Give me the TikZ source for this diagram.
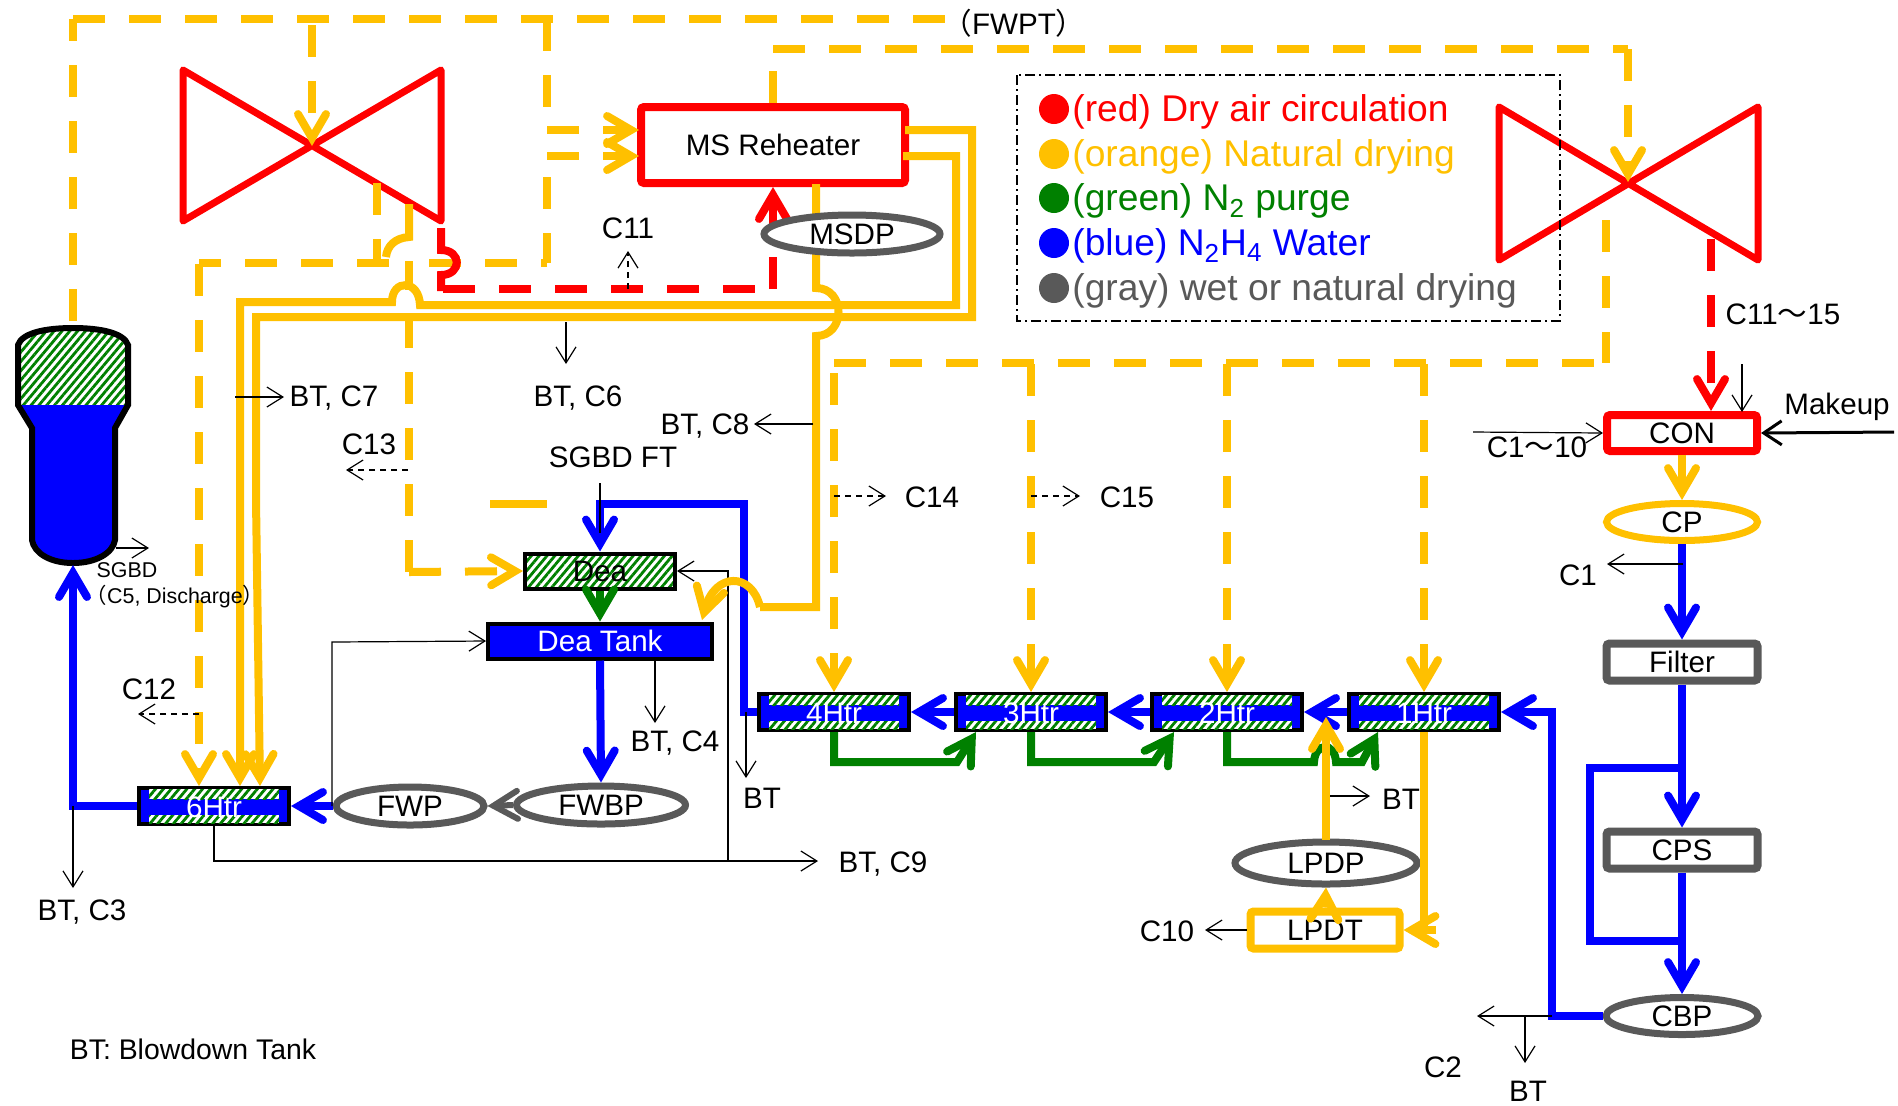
\documentclass[tikz,border=0pt]{standalone}
\usepackage{fontspec}
\setmainfont{Liberation Sans}
\newfontfamily\cjk{Noto Sans CJK JP}
\usetikzlibrary{arrows.meta, patterns.meta, shapes.geometric}

\definecolor{dryred}{HTML}{FF0000}
\definecolor{dryorange}{HTML}{FFC000}
\definecolor{purgegreen}{HTML}{008000}
\definecolor{waterblue}{HTML}{0000FF}
\definecolor{wetgray}{HTML}{595959}

\tikzset{
  pipe/.style={line width=4pt, line cap=butt, line join=miter},
  tipped/.style={-{Straight Barb[length=12pt,width=14pt,line cap=round,line join=miter]}},
  gap/.style={dash pattern=on 16pt off 12pt},
  redpipe/.style={pipe, dryred},
  orangepipe/.style={pipe, dryorange},
  greenpipe/.style={pipe, purgegreen},
  bluepipe/.style={pipe, waterblue},
  graypipe/.style={pipe, wetgray, line width=3pt},
  tap/.style={line width=.6pt, black, -{Straight Barb[length=8pt,width=10pt,line join=miter]}},
  tapdash/.style={tap, dash pattern=on 3pt off 2.5pt},
  hatched/.style={preaction={fill=white}, pattern={Lines[angle=50,distance=3pt,line width=1.4pt]}, pattern color=purgegreen},
  txt/.style={inner sep=0pt, yshift=-.6pt, font=\fontsize{14.8pt}{17pt}\selectfont},
  small/.style={inner sep=0pt, yshift=-.6pt, font=\fontsize{10.7pt}{12pt}\selectfont},
  legendtxt/.style={inner sep=0pt, anchor=west, yshift=-1.6pt, font=\fontsize{18.6pt}{20pt}\selectfont},
  box/.style={rectangle, draw, fill=white, line width=4pt, rounded corners=1.5pt, inner sep=0pt, font=\fontsize{14.8pt}{17pt}\selectfont},
  pump/.style={ellipse, draw=wetgray, fill=white, line width=3.5pt, inner sep=0pt, font=\fontsize{14.8pt}{17pt}\selectfont},
  heater/.style={rectangle, draw=black, fill=waterblue, line width=2pt, inner sep=0pt, minimum width=75pt, minimum height=18pt},
}

\begin{document}
\begin{tikzpicture}[x=.5pt,y=-.5pt]
\useasboundingbox (0,0) rectangle (1898,1105);

\coordinate (hpc) at (312,146);
\coordinate (lpc) at (1628,182);
\coordinate (sgtop) at (73,326);
\coordinate (sgbot) at (73,565);
\coordinate (msrA) at (639,130);
\coordinate (msrB) at (639,156);
\coordinate (conA) at (1711,411);
\coordinate (tipA) at (199,786);
\coordinate (tipB) at (240,786);
\coordinate (tipC) at (260,786);

% turbines
\draw[redpipe, line width=3.5pt, line join=round] (183,70) -- (441,221) -- (441,70) -- (183,221) -- cycle;
\draw[redpipe, line width=3.5pt, line join=round] (1499,107) -- (1758,260) -- (1758,107) -- (1499,260) -- cycle;

% steam generator
\fill[hatched] (18,405) -- (18,345) .. controls (22,333) and (45,328) .. (73,328) .. controls (101,328) and (124,333) .. (128,345) -- (128,405) -- cycle;
\fill[waterblue] (18,405) -- (32,428) -- (32,540) .. controls (34,553) and (50,563) .. (73,563) .. controls (96,563) and (113,553) .. (115,540) -- (115,428) -- (128,405) -- cycle;
\draw[black, line width=3pt] (18,405) -- (18,345) .. controls (22,333) and (45,328) .. (73,328) .. controls (101,328) and (124,333) .. (128,345) -- (128,405) -- (115,428) -- (115,540) .. controls (113,553) and (96,563) .. (73,563) .. controls (50,563) and (34,553) .. (32,540) -- (32,428) -- cycle;

% equipment
\node[box, draw=dryred, minimum width=132pt, minimum height=38pt] (msr) at (773,145) {MS Reheater};
\node[box, draw=dryred, minimum width=75pt, minimum height=18pt] (con) at (1682,433) {CON};
\node[box, draw=wetgray, minimum width=75.5pt, minimum height=18.5pt] (filter) at (1682,662) {Filter};
\node[box, draw=wetgray, minimum width=75.5pt, minimum height=18.5pt] (cps) at (1682,850) {CPS};
\node[box, draw=dryorange, minimum width=74.5pt, minimum height=18.5pt] (lpdt) at (1325,930) {LPDT};
\node[rectangle, draw=black, line width=2pt, hatched, inner sep=0pt, minimum width=75pt, minimum height=17.5pt, font=\fontsize{14.8pt}{17pt}\selectfont] (dea) at (600,571) {Dea};
\node[rectangle, draw=black, fill=waterblue, text=white, line width=2pt, inner sep=0pt, minimum width=112pt, minimum height=17.5pt, font=\fontsize{14.8pt}{17pt}\selectfont] (tank) at (600,641) {Dea Tank};
\foreach \hx/\hy/\hname/\htext in {214/806/h6/6Htr, 834/712/h4/4Htr, 1031/712/h3/3Htr, 1227/712/h2/2Htr, 1424/712/h1/1Htr} {
    \node[heater] (\hname) at (\hx,\hy) {};
    \fill[hatched] (\hx-65,\hy-17) rectangle (\hx+65,\hy-7);
    \fill[hatched] (\hx-65,\hy+9) rectangle (\hx+65,\hy+17);
    \node[txt, white] (\hname txt) at (\hname) {\htext};
}
\node[pump, minimum width=74pt, minimum height=19pt] (fwp) at (410,806) {FWP};
\node[pump, minimum width=84.5pt, minimum height=19pt] (fwbp) at (601,805) {FWBP};
\node[pump, minimum width=91pt, minimum height=21pt] (lpdp) at (1326,863) {LPDP};
\node[pump, draw=dryorange, minimum width=75.5pt, minimum height=18.5pt] (cp) at (1682,522) {CP};
\node[pump, minimum width=76pt, minimum height=18.5pt] (cbp) at (1682,1016) {CBP};

% dashed orange from the top line
\draw[orangepipe, gap] (73,19) -- (945,19);
\draw[orangepipe, gap, dash phase=5pt] (73,19) -- (sgtop);
\draw[orangepipe, gap, tipped] (312,25) -- (hpc);
\draw[orangepipe, gap] (547,19) -- (547,107);
\draw[orangepipe, gap] (547,177) -- (547,263);
\draw[orangepipe, gap, tipped] (547,130) -- (msrA);
\draw[orangepipe, gap, tipped] (547,156) -- (msrB);
\draw[orangepipe, gap, dash phase=13pt] (547,263) -- (429,263);
\draw[orangepipe, gap, dash phase=5pt] (199,263) -- (389,263);
\draw[orangepipe, gap, tipped] (199,264) -- (tipA);
\draw[orangepipe, gap] (377,183) -- (377,263);

% dashed orange to the low pressure turbine and the heaters
\draw[orangepipe, gap] (msr.north) -- (773,49);
\draw[orangepipe, gap] (773,49) -- (1628,49);
\draw[orangepipe, gap, tipped] (1628,49) -- (lpc);
\draw[orangepipe, gap] (1606,220) -- (1606,363);
\draw[orangepipe, gap] (834,363) -- (1606,363);
\draw[orangepipe, gap, tipped] (834,373) -- (h4.north);
\foreach \hname/\hx in {h3/1031, h2/1227, h1/1424}
    \draw[orangepipe, gap, tipped] (\hx,364) -- (\hname.north);

% extraction line to the deaerator, with its jumps
\draw[orangepipe] (409,204) -- (409,237) .. controls (395,238) and (387,246) .. (386,257);
\draw[orangepipe] (409,261) -- (409,290);
\draw[orangepipe, gap] (409,316) -- (409,572);
\draw[orangepipe, gap, tipped] (409,572) -- (dea.west);
\draw[orangepipe] (490,504) -- (547,504);

% dry air circulation
\draw[redpipe] (441,228) -- (441,250) .. controls (462,250) and (462,275) .. (441,275) -- (441,291);
\draw[redpipe, gap] (443,289) -- (773,289);
\draw[redpipe, gap, tipped] (773,289) -- (msr.south);
\draw[redpipe, gap, tipped] (1711,239) -- (conA);

% solid orange drains
\draw[orangepipe, tipped] (903,156) -- (956,156) -- (956,305) -- (420,305) .. controls (419,279) and (392,279) .. (392,302) -- (240,302) -- (tipB);
\draw[orangepipe, tipped] (905,130) -- (972,130) -- (972,317) -- (256,317) -- (256,500) -- (tipC);
\draw[orangepipe] (816,184) -- (816,288) .. controls (846,288) and (846,336) .. (816,336) -- (816,607) -- (760,607);

% feedwater
\draw[bluepipe, tipped] (h4.west) -- (744,712) -- (744,504) -- (600,504) -- (dea.north);
\draw[greenpipe, tipped] (dea.south) -- (tank.north);
\draw[bluepipe, tipped] (tank.south) -- (fwbp.north);
\draw[graypipe, tipped] (fwbp.west) -- (fwp.east);
\draw[bluepipe, tipped] (fwp.west) -- (h6.east);
\draw[bluepipe, tipped] (h6.west) -- (73,806) -- (sgbot);
\draw[bluepipe, tipped] (h3.west) -- (h4.east);
\draw[bluepipe, tipped] (h2.west) -- (h3.east);
\draw[bluepipe, tipped] (h1.west) -- (h2.east);
\draw[bluepipe, tipped] (cbp.west) -- (1552,1016) -- (1552,712) -- (h1.east);
\draw[orangepipe, tipped] (con.south) -- (cp.north);
\draw[bluepipe, tipped] (cp.south) -- (filter.north);
\draw[bluepipe, tipped] (filter.south) -- (cps.north);
\draw[bluepipe, tipped] (cps.south) -- (cbp.north);
\draw[bluepipe] (1682,768) -- (1590,768) -- (1590,941) -- (1682,941);

% nitrogen purge
\draw[greenpipe, tipped] (h4.south) -- (834,762) -- (957,762) -- (976,732);
\draw[greenpipe, tipped] (h3.south) -- (1031,762) -- (1154,762) -- (1174,732);
\draw[greenpipe, tipped] (h2.south) -- (1227,762) -- (1314,762) .. controls (1315,742) and (1335,742) .. (1336,762) -- (1362,762) -- (1378,732);

% thin branches
\draw[tap] (h6.south) -- (214,861) -- (728,861) -- (728,571) -- (dea.east);
\draw[tap] (728,861) -- (818,861);
\draw[tap] (332,806) -- (332,642) -- (tank.west);
\draw[tap] (73,806) -- (73,888);
\draw[tap] (235,397) -- (284,397);
\draw[tap] (566,322) -- (566,364);
\draw[tap] (813,424) -- (754,424);
\draw[tap] (655,661) -- (655,723);
\draw[tap] (746,712) -- (746,778);
\draw[tap] (1326,796) -- (1370,796);
\draw[line width=.6pt] (600,483) -- (600,533);
\draw[tap] (116,548) -- (149,548);
\draw[tap] (lpdt.west) -- (1205,930);
\draw[tap] (1473,432) -- (con.west);
\draw[tap] (1742,364) -- (1742,412);
\draw[tap] (1683,564) -- (1607,564);
\draw[tap] (1552,1016) -- (1477,1016);
\draw[tap] (1525,1016) -- (1525,1063);
\draw[line width=1.5pt, -{Straight Barb[length=9pt,width=12pt,line join=miter]}] (1894,432) -- (con.east);
\draw[tapdash] (408,470) -- (346,470);
\draw[tapdash] (199,714) -- (138,714);
\draw[tapdash] (628,289) -- (628,251);
\draw[tapdash] (834,496) -- (886,496);
\draw[tapdash] (1031,496) -- (1080,496);

% orange pieces lying over the thin lines
\draw[orangepipe, tipped] (760,607) .. controls (752,572) and (715,572) .. (702,620);
\draw[orangepipe, tipped] (1326,840) -- (1326,717);
\draw[orangepipe] (h1.south) -- (1424,932);
\draw[orangepipe, tipped] (1436,930) -- (lpdt.east);
\draw[orangepipe, tipped] (lpdt.north) -- (lpdp.south);
\node[pump, minimum width=88pt, minimum height=19pt] (msdp) at (852,234) {MSDP};

% labels
\node[txt] (fwpt) at (1014,22) {{\cjk （}FWPT{\cjk ）}};
\node[txt] (c11) at (628,227) {C11};
\node[txt] (btc7) at (334,397) {BT, C7};
\node[txt] (btc6) at (578,397) {BT, C6};
\node[txt] (btc8) at (705,425) {BT, C8};
\node[txt] (c13) at (369,443) {C13};
\node[txt] (sgbdft) at (613,456) {SGBD FT};
\node[small] (sgbd) at (127,569) {SGBD};
\node[small] (sgbdc5) at (175,595) {{\cjk （}C5, Discharge{\cjk ）}};
\node[txt] (c12) at (149,688) {C12};
\node[txt] (btc4) at (675,742) {BT, C4};
\node[txt] (btc3) at (82,911) {BT, C3};
\node[txt] (btc9) at (883,863) {BT, C9};
\node[txt] (bta) at (762,797) {BT};
\node[txt] (btb) at (1401,798) {BT};
\node[txt] (btc) at (1528,1090) {BT};
\node[txt] (c14) at (932,496) {C14};
\node[txt] (c15) at (1127,496) {C15};
\node[txt] (c10) at (1167,930) {C10};
\node[txt] (c1) at (1578,574) {C1};
\node[txt] (c2) at (1443,1066) {C2};
\node[txt] (c1115) at (1783,313) {C11{\cjk ～}15};
\node[txt] (c110) at (1537,446) {C1{\cjk ～}10};
\node[txt] (makeup) at (1837,406) {Makeup};
\node[txt, font=\fontsize{14.2pt}{17pt}\selectfont] (btnote) at (193,1048) {BT: Blowdown Tank};

% legend
\draw[black, line width=1pt, dash pattern=on 5pt off 2pt on 1pt off 2pt] (1017,75) rectangle (1560,321);
\foreach \ly/\lcol/\ltext in {109/dryred/{(red) Dry air circulation}, 154/dryorange/{(orange) Natural drying}, 198/purgegreen/{(green) N\textsubscript{2} purge}, 243/waterblue/{(blue) N\textsubscript{2}H\textsubscript{4} Water}, 288/wetgray/{(gray) wet or natural drying}} {
    \node[circle, fill=\lcol, inner sep=0pt, minimum size=15pt] at (1054,\ly) {};
    \node[legendtxt, \lcol] at (1072,\ly) {\ltext};
}
\end{tikzpicture}
\end{document}
